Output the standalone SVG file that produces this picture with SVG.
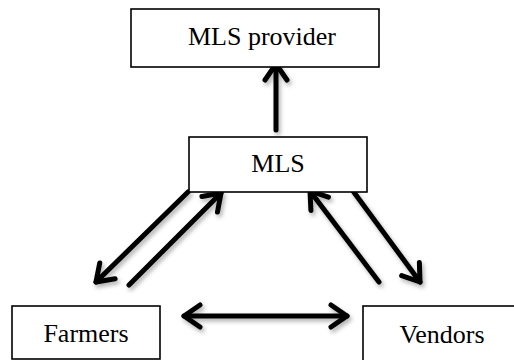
<svg xmlns="http://www.w3.org/2000/svg" width="514" height="360" viewBox="0 0 514 360">
  <style>
    .box { fill: #ffffff; stroke: #000000; stroke-width: 1.6; }
    .label { font-family: "Liberation Serif", "Times New Roman", serif; font-size: 26px; fill: #000000; text-anchor: middle; }
    .link { fill: none; stroke: #000000; stroke-width: 5; stroke-linecap: round; }
  </style>
  <defs>
    <marker id="head" markerUnits="userSpaceOnUse" viewBox="-22 -16 30 32" markerWidth="30" markerHeight="32" refX="0" refY="0" orient="auto">
      <path d="M -16 -11 L 0 0 L -16 11" fill="none" stroke="#000000" stroke-width="5" stroke-linecap="round" stroke-linejoin="round"/>
    </marker>
    <marker id="tail" markerUnits="userSpaceOnUse" viewBox="-8 -16 30 32" markerWidth="30" markerHeight="32" refX="0" refY="0" orient="auto">
      <path d="M 16 -11 L 0 0 L 16 11" fill="none" stroke="#000000" stroke-width="5" stroke-linecap="round" stroke-linejoin="round"/>
    </marker>
    <filter id="shadow" x="-20%" y="-20%" width="140%" height="140%">
      <feDropShadow dx="2" dy="3" stdDeviation="2" flood-color="#000000" flood-opacity="0.3"/>
    </filter>
  </defs>

  <g id="connectors" filter="url(#shadow)">
    <!-- MLS up to provider -->
    <line class="link" x1="276" y1="130" x2="276" y2="64" marker-end="url(#head)"/>
    <!-- MLS down to Farmers -->
    <line class="link" x1="188" y1="192" x2="96" y2="282" marker-end="url(#head)"/>
    <!-- Farmers up to MLS -->
    <line class="link" x1="129" y1="285" x2="221" y2="193" marker-end="url(#head)"/>
    <!-- Vendors up to MLS -->
    <line class="link" x1="379" y1="282" x2="310" y2="191" marker-end="url(#head)"/>
    <!-- MLS down to Vendors -->
    <line class="link" x1="353" y1="191" x2="420" y2="282" marker-end="url(#head)"/>
    <!-- Farmers and Vendors both ways -->
    <line class="link" x1="184" y1="316" x2="347" y2="316" marker-start="url(#tail)" marker-end="url(#head)"/>
  </g>

  <g id="mls-provider">
    <rect class="box" x="131" y="9" width="248" height="58"/>
    <text class="label" x="262" y="45">MLS provider</text>
  </g>

  <g id="mls">
    <rect class="box" x="189" y="137" width="178" height="55"/>
    <text class="label" x="278" y="172">MLS</text>
  </g>

  <g id="farmers">
    <rect class="box" x="12" y="306" width="148" height="53"/>
    <text class="label" x="86" y="342">Farmers</text>
  </g>

  <g id="vendors">
    <rect class="box" x="363" y="306" width="160" height="60"/>
    <text class="label" x="442" y="343">Vendors</text>
  </g>
</svg>
